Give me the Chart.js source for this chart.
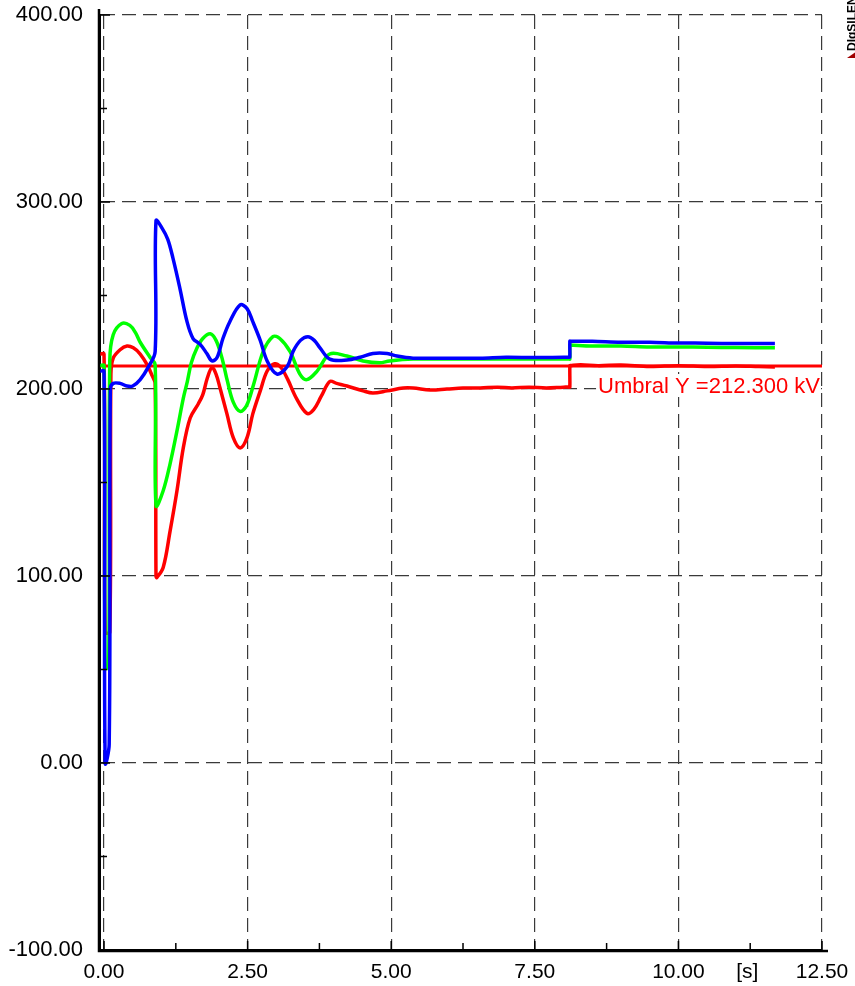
<!DOCTYPE html>
<html><head><meta charset="utf-8">
<script src="https://cdn.jsdelivr.net/npm/chart.js@4.4.1/dist/chart.umd.min.js"></script>
<style>html,body{margin:0;padding:0;background:#fff;overflow:hidden}#wrap{width:855px;height:986px}</style>
</head><body><div id="wrap"><canvas id="c" width="855" height="986"></canvas></div>
<script>
const xTicks = [0, 2.5, 5, 7.5, 10, 12.5];
const yTicks = [-100, 0, 100, 200, 300, 400];
const xMinorTicks = [1.25, 3.75, 6.25, 8.75, 11.25];
const yMinorTicks = [-50, 50, 150, 250, 350];
const xUnitLabel = '[s]';
const thresholdValue = 212.3;
const thresholdLabel = 'Umbral Y =212.300 kV';
const logoText = 'DIgSILENT';

const redT = [-0.07, 0.00, 0.02, 0.10, 0.12, 0.16, 0.28, 0.40, 0.51, 0.63, 0.75, 0.84, 0.89, 0.905, 0.92, 1.03, 1.15, 1.27, 1.38, 1.50, 1.64, 1.72, 1.80, 1.88, 1.95, 2.02, 2.14, 2.25, 2.37, 2.49, 2.59, 2.72, 2.84, 2.97, 3.08, 3.20, 3.35, 3.53, 3.65, 3.78, 3.93, 4.05, 4.23, 4.51, 4.68, 4.93, 5.21, 5.38, 5.68, 5.97, 6.25, 6.55, 6.85, 7.10, 7.40, 7.70, 8.00, 8.10, 8.11, 8.11, 8.12, 8.30, 8.60, 9.00, 9.50, 10.00, 10.50, 11.00, 11.40, 11.68];
const redV = [218.7, 218.7, 70, 70, 208, 216.5, 221, 223, 222, 218.7, 213, 207, 203, 100, 99.2, 104.5, 124, 145.6, 168.5, 184.5, 192, 197, 206, 211.5, 208, 200.5, 186.7, 174, 168.5, 174, 186.7, 199, 209.6, 213.5, 211.5, 205, 195, 187, 189, 196, 204, 203, 201.6, 199, 197.9, 199, 200.5, 200.5, 199.5, 200, 200.5, 200.5, 201, 200.5, 201, 200.5, 201, 201, 201, 212.5, 212.6, 213, 212.5, 212.8, 212, 212.5, 212, 212.3, 212, 211.8];

const greenT = [-0.07, 0.00, 0.02, 0.08, 0.10, 0.16, 0.31, 0.45, 0.55, 0.63, 0.80, 0.89, 0.905, 1.03, 1.15, 1.27, 1.38, 1.45, 1.52, 1.62, 1.72, 1.85, 1.95, 2.05, 2.15, 2.25, 2.37, 2.48, 2.60, 2.77, 2.94, 3.06, 3.24, 3.41, 3.53, 3.71, 3.93, 4.23, 4.51, 4.80, 4.97, 5.38, 5.97, 6.55, 7.00, 7.50, 8.00, 8.10, 8.11, 8.11, 8.12, 8.50, 9.00, 9.50, 10.00, 10.50, 11.00, 11.68];
const greenV = [212.5, 212.5, 51, 51, 215, 229, 235, 234, 230, 225, 217, 213, 137.6, 145.6, 160, 177.6, 195, 204, 214, 222, 227, 229.5, 226, 217, 204, 193, 188, 191, 202, 220, 228, 227, 220, 208, 205, 209.6, 218.7, 217.6, 215, 214, 215, 216, 216, 216, 216, 216, 216, 216, 216, 223.5, 223.5, 223, 223, 222.5, 222.5, 222.3, 222.2, 222];

const blueT = [-0.07, 0.00, 0.02, 0.09, 0.11, 0.16, 0.28, 0.40, 0.50, 0.63, 0.77, 0.89, 0.905, 1.01, 1.11, 1.20, 1.32, 1.445, 1.55, 1.67, 1.79, 1.88, 1.97, 2.07, 2.19, 2.37, 2.49, 2.59, 2.72, 2.84, 3.01, 3.19, 3.29, 3.42, 3.55, 3.66, 3.76, 3.93, 4.23, 4.46, 4.68, 4.93, 5.10, 5.38, 5.97, 6.55, 7.00, 7.50, 8.00, 8.10, 8.11, 8.11, 8.12, 8.50, 9.00, 9.50, 10.00, 10.50, 11.00, 11.68];
const blueV = [209.5, 209.5, 0, 10, 200, 203, 203, 201.6, 201.6, 205, 211.7, 220, 290, 286, 280, 270, 254, 236, 227, 224, 219, 215, 217, 227, 236, 245, 243, 236, 226, 215, 208, 212, 220, 226, 228, 226, 222, 216, 215.5, 217, 219, 219, 217.6, 216.5, 216.5, 216.5, 217, 216.8, 217, 217, 217, 225.6, 225.6, 225.5, 225, 225, 224.6, 224.5, 224.3, 224.3];

const FONT = "'Liberation Sans', Arial, sans-serif";
const zip = (t, v) => t.map((x, i) => ({x: x, y: v[i]}));
const xMin = -0.07, xMax = 12.5;

const labelBg = {
  id: 'labelBg',
  beforeDatasetsDraw(chart) {
    const {ctx, chartArea: a, scales: {y}} = chart;
    ctx.save();
    ctx.font = '22px ' + FONT;
    const w = ctx.measureText(thresholdLabel).width;
    const base = y.getPixelForValue(thresholdValue) + 27;
    ctx.fillStyle = '#fff';
    ctx.fillRect(a.right - 2 - w - 2, base - 19, w + 3, 23);
    ctx.restore();
  }
};

const decor = {
  id: 'decor',
  afterDraw(chart) {
    const {ctx, chartArea: a, scales: {x, y}} = chart;
    ctx.save();
    ctx.strokeStyle = '#000';
    ctx.lineWidth = 1.5;
    ctx.beginPath();
    xTicks.forEach(v => { const p = x.getPixelForValue(v); ctx.moveTo(p, a.bottom); ctx.lineTo(p, a.bottom - 9); });
    xMinorTicks.forEach(v => { const p = x.getPixelForValue(v); ctx.moveTo(p, a.bottom); ctx.lineTo(p, a.bottom - 7); });
    yTicks.forEach(v => { const p = y.getPixelForValue(v); ctx.moveTo(a.left, p); ctx.lineTo(a.left + 10, p); });
    yMinorTicks.forEach(v => { const p = y.getPixelForValue(v); ctx.moveTo(a.left, p); ctx.lineTo(a.left + 7, p); });
    ctx.stroke();
    ctx.lineWidth = 2.5;
    ctx.beginPath();
    ctx.moveTo(a.left - 1, a.top - 6); ctx.lineTo(a.left - 1, a.bottom + 1);
    ctx.lineTo(a.right + 6, a.bottom + 1);
    ctx.stroke();
    ctx.fillStyle = '#000';
    ctx.font = '21px ' + FONT;
    ctx.textAlign = 'center';
    ctx.textBaseline = 'middle';
    ctx.fillText(xUnitLabel, x.getPixelForValue(11.2), a.bottom + 22);
    ctx.fillStyle = '#ff0000';
    ctx.font = '22px ' + FONT;
    ctx.textAlign = 'right';
    ctx.textBaseline = 'alphabetic';
    ctx.fillText(thresholdLabel, a.right - 2, y.getPixelForValue(thresholdValue) + 27);
    ctx.translate(853, 58);
    ctx.rotate(-Math.PI / 2);
    ctx.fillStyle = '#000';
    ctx.font = 'bold 12px ' + FONT;
    ctx.textAlign = 'left';
    ctx.textBaseline = 'middle';
    ctx.fillText(logoText, 7, 0);
    ctx.fillStyle = '#a00000';
    ctx.beginPath();
    ctx.moveTo(0, -6); ctx.lineTo(7, 4); ctx.lineTo(0, 4); ctx.closePath();
    ctx.fill();
    ctx.restore();
  }
};

const lineDs = (label, data, color, w) => ({
  label, data, borderColor: color, backgroundColor: color, borderWidth: w,
  showLine: true, pointRadius: 0, fill: false, tension: 0.35
});

new Chart(document.getElementById('c'), {
  type: 'scatter',
  data: {
    datasets: [
      lineDs('blue', zip(blueT, blueV), '#0000ff', 3.5),
      lineDs('green', zip(greenT, greenV), '#00ff00', 3.5),
      lineDs('red', zip(redT, redV), '#ff0000', 3.5),
      Object.assign(lineDs('threshold', zip([xMin, xMax], [thresholdValue, thresholdValue]), '#ff0000', 3), {tension: 0})
    ]
  },
  options: {
    responsive: false, animation: false, devicePixelRatio: 1,
    layout: {padding: {top: 15, right: 33, left: 0, bottom: 0}},
    plugins: {legend: {display: false}, tooltip: {enabled: false}},
    scales: {
      x: {
        type: 'linear', min: xMin, max: xMax,
        afterBuildTicks: s => { s.ticks = xTicks.map(v => ({value: v})); },
        afterFit: s => { s.height = 36; s.paddingLeft = 0; s.paddingRight = 0; },
        ticks: {font: {family: FONT, size: 21}, color: '#000', padding: 10, maxRotation: 0, autoSkip: false,
          callback: v => Number(v).toFixed(2)},
        grid: {color: '#3a3a3a', lineWidth: 1.2, drawTicks: false},
        border: {display: true, color: '#000', width: 2, dash: [14, 7]}
      },
      y: {
        type: 'linear', min: -100, max: 400,
        afterBuildTicks: s => { s.ticks = yTicks.map(v => ({value: v})); },
        afterFit: s => { s.width = 100; s.paddingTop = 0; s.paddingBottom = 0; },
        ticks: {font: {family: FONT, size: 22}, color: '#000', padding: 17,
          callback: v => Number(v).toFixed(2)},
        grid: {color: '#3a3a3a', lineWidth: 1.2, drawTicks: false},
        border: {display: true, color: '#000', width: 2, dash: [14, 7]}
      }
    }
  },
  plugins: [labelBg, decor]
});
</script></body></html>
